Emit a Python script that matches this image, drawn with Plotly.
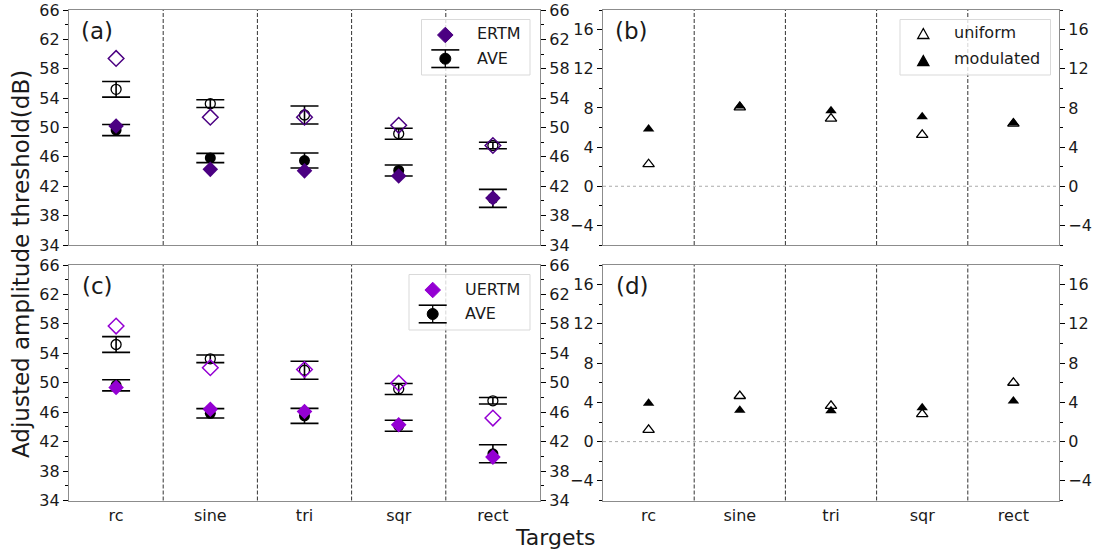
import plotly.graph_objects as go

# ---------------- data ----------------
cats = ["rc", "sine", "tri", "sqr", "rect"]

ave_uni = [55.2, 53.25, 51.7, 49.15, 47.55]
ave_uni_err = [1.07, 0.52, 1.22, 0.75, 0.44]
ave_mod = [49.65, 45.85, 45.5, 44.15, 40.35]
ave_mod_err = [0.75, 0.63, 1.02, 0.75, 1.22]

ertm_uni = [59.4, 51.4, 51.4, 50.3, 47.55]
ertm_mod = [50.2, 44.3, 44.1, 43.4, 40.4]

uertm_uni = [57.7, 52.05, 51.8, 49.95, 45.2]
uertm_mod = [49.35, 46.4, 46.1, 44.3, 39.9]

b_uni = [2.25, 8.05, 6.9, 5.25, 6.4]
b_mod = [5.85, 8.2, 7.7, 7.1, 6.45]
d_uni = [1.2, 4.65, 3.65, 2.8, 6.0]
d_mod = [3.9, 3.2, 3.15, 3.45, 4.15]

left_range = [34, 66]
left_tick0 = 34
right_range = [-6, 18]
right_tick0 = -4

# ---------------- styling ----------------
W, H = 1112, 554
FONT = "DejaVu Sans"
TXT = "#1a1a1a"
SPINE = "#8c8c8c"
ERTM_C = "#4B0082"
UERTM_C = "#9400D3"
TICKSZ = 16

xpos = list(range(len(cats)))

fig = go.Figure()


def ave_traces(xa, ya):
    fig.add_trace(go.Scatter(
        x=xpos, y=ave_uni, mode="markers", xaxis=xa, yaxis=ya, name="AVE uniform",
        marker=dict(symbol="circle-open", size=10, color="black", line=dict(width=1.3)),
        error_y=dict(type="data", array=ave_uni_err, color="black", thickness=1.6, width=14),
        showlegend=False))
    fig.add_trace(go.Scatter(
        x=xpos, y=ave_mod, mode="markers", xaxis=xa, yaxis=ya, name="AVE",
        marker=dict(symbol="circle", size=11, color="black"),
        error_y=dict(type="data", array=ave_mod_err, color="black", thickness=1.6, width=14),
        showlegend=False))


def diamond_traces(xa, ya, uni, mod, color, name):
    fig.add_trace(go.Scatter(
        x=xpos, y=uni, mode="markers", xaxis=xa, yaxis=ya, name=name + " uniform",
        marker=dict(symbol="diamond-open", size=12, color=color, line=dict(width=1.5)),
        showlegend=False))
    fig.add_trace(go.Scatter(
        x=xpos, y=mod, mode="markers", xaxis=xa, yaxis=ya, name=name,
        marker=dict(symbol="diamond", size=12, color=color),
        showlegend=False))


def tri_traces(xa, ya, uni, mod):
    fig.add_trace(go.Scatter(
        x=xpos, y=uni, mode="markers", xaxis=xa, yaxis=ya, name="uniform",
        marker=dict(symbol="triangle-up-open", size=10, color="black", line=dict(width=1.3)),
        showlegend=False))
    fig.add_trace(go.Scatter(
        x=xpos, y=mod, mode="markers", xaxis=xa, yaxis=ya, name="modulated",
        marker=dict(symbol="triangle-up", size=10, color="black"),
        showlegend=False))


ave_traces("x", "y")
diamond_traces("x", "y", ertm_uni, ertm_mod, ERTM_C, "ERTM")
tri_traces("x2", "y2", b_uni, b_mod)
ave_traces("x3", "y3")
diamond_traces("x3", "y3", uertm_uni, uertm_mod, UERTM_C, "UERTM")
tri_traces("x4", "y4", d_uni, d_mod)

# empty traces so the mirrored right-hand axes get drawn
for xa, ya in [("x", "y5"), ("x2", "y6"), ("x3", "y7"), ("x4", "y8")]:
    fig.add_trace(go.Scatter(x=[], y=[], xaxis=xa, yaxis=ya, showlegend=False, hoverinfo="skip"))

xl_dom = [69 / W, 540 / W]
xr_dom = [603 / W, 1059 / W]
yt_dom = [1 - 245 / H, 1 - 10 / H]
yb_dom = [1 - 500.5 / H, 1 - 265 / H]


def xaxis(dom, anchor, labels):
    return dict(domain=dom, anchor=anchor, range=[-0.5, len(cats) - 0.5],
                tickmode="array", tickvals=xpos, ticktext=cats, automargin=False,
                showticklabels=labels, ticks="", showgrid=False, zeroline=False,
                showline=True, linecolor=SPINE, linewidth=1.2, mirror=True,
                tickfont=dict(family=FONT, size=TICKSZ, color=TXT))


def yaxis(dom, anchor, rng, t0, side="left", overlay=None):
    d = dict(range=rng, tickmode="linear", tick0=t0, dtick=4, automargin=False,
             ticks="outside", ticklen=5, tickwidth=1.3, tickcolor="black",
             minor=dict(dtick=2, tick0=t0, ticks="outside", ticklen=3,
                        tickwidth=1.3, tickcolor="black", showgrid=False),
             showgrid=False, zeroline=False, showline=True, linecolor=SPINE,
             linewidth=1.2, side=side, anchor=anchor,
             tickfont=dict(family=FONT, size=TICKSZ, color=TXT))
    if overlay:
        d["overlaying"] = overlay
    else:
        d["domain"] = dom
        d["mirror"] = True
    return d


fig.update_layout(
    width=W, height=H, margin=dict(l=0, r=0, t=0, b=0, autoexpand=False),
    paper_bgcolor="white", plot_bgcolor="white", showlegend=False,
    font=dict(family=FONT, size=16, color=TXT),
    xaxis=xaxis(xl_dom, "y", False),
    xaxis2=xaxis(xr_dom, "y2", False),
    xaxis3=xaxis(xl_dom, "y3", True),
    xaxis4=xaxis(xr_dom, "y4", True),
    yaxis=yaxis(yt_dom, "x", left_range, left_tick0),
    yaxis2=yaxis(yt_dom, "x2", right_range, right_tick0),
    yaxis3=yaxis(yb_dom, "x3", left_range, left_tick0),
    yaxis4=yaxis(yb_dom, "x4", right_range, right_tick0),
    yaxis5=yaxis(None, "x", left_range, left_tick0, "right", "y"),
    yaxis6=yaxis(None, "x2", right_range, right_tick0, "right", "y2"),
    yaxis7=yaxis(None, "x3", left_range, left_tick0, "right", "y3"),
    yaxis8=yaxis(None, "x4", right_range, right_tick0, "right", "y4"),
)

# category separators and zero lines
shapes = []
for xa, ya in [("x", "y"), ("x2", "y2"), ("x3", "y3"), ("x4", "y4")]:
    for i in range(len(cats) - 1):
        shapes.append(dict(type="line", xref=xa, yref=ya + " domain", x0=i + 0.5, x1=i + 0.5,
                           y0=0, y1=1, line=dict(color="#333333", width=1, dash="4px,2px"), layer="below"))
for xa, ya in [("x2", "y2"), ("x4", "y4")]:
    shapes.append(dict(type="line", xref=xa + " domain", yref=ya, x0=0, x1=1, y0=0, y1=0,
                       line=dict(color="#aaaaaa", width=1, dash="dot"), layer="below"))

# ---------------- legends (drawn in paper pixels) ----------------
def px(x):
    return x / W


def py(y):
    return 1 - y / H


def pline(x0, y0, x1, y1, width):
    shapes.append(dict(type="line", xref="paper", yref="paper", x0=px(x0), x1=px(x1),
                       y0=py(y0), y1=py(y1), line=dict(color="black", width=width)))


def ppath(pts, fill, line_color, width):
    d = "M " + " L ".join(f"{px(a):.5f},{py(b):.5f}" for a, b in pts) + " Z"
    shapes.append(dict(type="path", xref="paper", yref="paper", path=d, fillcolor=fill,
                       line=dict(color=line_color, width=width)))


def key_diamond(cx, cy, color):
    r = 7.8
    ppath([(cx - r, cy), (cx, cy - r), (cx + r, cy), (cx, cy + r)], color, color, 1)


def key_ave(cx, cy):
    pline(cx - 14, cy - 8.8, cx + 14, cy - 8.8, 1.6)
    pline(cx - 14, cy + 8.8, cx + 14, cy + 8.8, 1.6)
    pline(cx, cy - 8.8, cx, cy + 8.8, 1.3)
    r = 5.5
    shapes.append(dict(type="circle", xref="paper", yref="paper", x0=px(cx - r), x1=px(cx + r),
                       y0=py(cy + r), y1=py(cy - r), fillcolor="black", line=dict(color="black", width=1)))


def key_tri(cx, cy, filled):
    w, h = 5.6, 5.0
    ppath([(cx - w, cy + h), (cx + w, cy + h), (cx, cy - h)],
          "black" if filled else "white", "black", 1.3)


ann = []


def key_text(x, y, text):
    ann.append(dict(text=text, x=px(x), y=py(y), xref="paper", yref="paper", showarrow=False,
                    xanchor="left", yanchor="middle", font=dict(family=FONT, size=16, color=TXT)))


for x0, x1, y0, y1 in [(421.5, 530, 19.5, 75), (900, 1050.5, 19.5, 75), (409, 530, 274.5, 330)]:
    shapes.append(dict(type="rect", xref="paper", yref="paper", x0=px(x0), x1=px(x1),
                       y0=py(y1), y1=py(y0), fillcolor="rgba(255,255,255,0.8)",
                       line=dict(color="#d9d9d9", width=1), layer="above"))

# (a)
key_diamond(445.3, 35, ERTM_C)
key_text(475, 34, "ERTM")
key_ave(445.3, 58.7)
key_text(475, 58, "AVE")
# (b)
key_tri(923.3, 33.5, False)
key_text(952, 33, "uniform")
key_tri(923.3, 60.5, True)
key_text(952, 59, "modulated")
# (c)
key_diamond(432.7, 290, UERTM_C)
key_text(462.5, 289, "UERTM")
key_ave(432.7, 314)
key_text(462.5, 313, "AVE")

fig.update_layout(shapes=shapes)

for lab, x, y in [("(a)", 79, 31), ("(b)", 613, 31), ("(c)", 80, 286), ("(d)", 614, 286)]:
    ann.append(dict(text=lab, x=px(x), y=py(y), xref="paper", yref="paper", showarrow=False,
                    xanchor="left", yanchor="middle", font=dict(family=FONT, size=23, color=TXT)))
ann.append(dict(text="Targets", x=px(555), y=py(537), xref="paper", yref="paper", showarrow=False,
                xanchor="center", yanchor="middle", font=dict(family=FONT, size=22, color=TXT)))
ann.append(dict(text="Adjusted amplitude threshold(dB)", x=px(21), y=py(264), xref="paper",
                yref="paper", showarrow=False, textangle=-90, xanchor="center", yanchor="middle",
                font=dict(family=FONT, size=23, color=TXT)))
fig.update_layout(annotations=ann)

fig.write_html("out.html")
